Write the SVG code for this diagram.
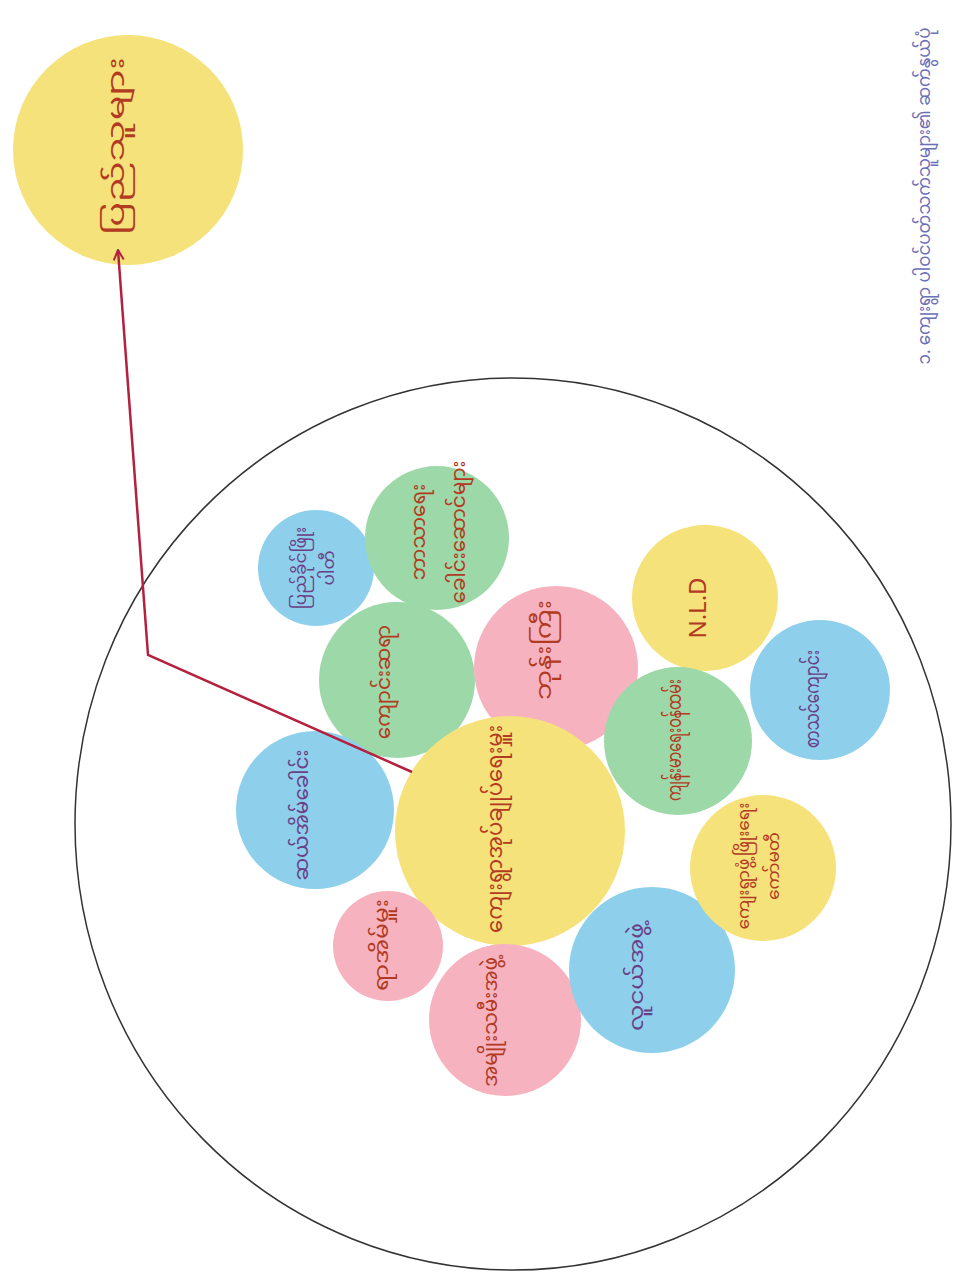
<svg xmlns="http://www.w3.org/2000/svg" width="956" height="1279" viewBox="0 0 956 1279">
<style>
.y{fill:#f6e27a}
.g{fill:#9dd8a8}
.p{fill:#f6b3bf}
.b{fill:#8ed0ec}
.t{font-family:"Noto Sans Myanmar","Noto Sans","DejaVu Sans",sans-serif;font-size:20px;fill:#b23a22;text-anchor:middle;dominant-baseline:central}
.tb{fill:#6a3f86}
.cap{font-family:"Noto Sans Myanmar","Noto Sans","DejaVu Sans",sans-serif;font-size:18px;fill:#6b6fb8;text-anchor:middle;dominant-baseline:central}
.link{fill:none;stroke:#b3213f;stroke-width:2.5}
</style>
<defs>
<marker id="arr" viewBox="0 0 12 12" refX="11" refY="6" markerWidth="12" markerHeight="12" markerUnits="userSpaceOnUse" orient="auto">
<path d="M1,1 L11,6 L1,11" fill="none" stroke="#b3213f" stroke-width="2"/>
</marker>
</defs>
<rect width="956" height="1279" fill="#ffffff"/>

<g id="boundary">
<ellipse cx="513" cy="824" rx="438" ry="446" fill="none" stroke="#333" stroke-width="1.5"/>
</g>

<g id="caption">
<text class="cap" transform="translate(925,196) rotate(-90)" textLength="337" lengthAdjust="spacingAndGlyphs">၁. ကျေးရွာ ပါဝင်ပတ်သက်သူများ၏ ဆက်နွယ်ပုံ</text>
</g>

<g id="n-people">
<circle class="y" cx="128" cy="150" r="115"/>
<text class="t" transform="translate(118,146) rotate(-90)" style="font-size:24px" textLength="178" lengthAdjust="spacingAndGlyphs">ပြည်သူများ</text>
</g>

<g id="n-usdp">
<circle class="b" cx="316" cy="568" r="58"/>
<text class="t tb" transform="translate(316,568) rotate(-90)"><tspan x="0" dy="-14" style="font-size:17px">ပြည်ခိုင်ဖြိုး</tspan><tspan x="0" dy="28" style="font-size:17px">ပါတီ</tspan></text>
</g>

<g id="n-religious">
<circle class="g" cx="437" cy="538" r="72"/>
<text class="t" transform="translate(440,532) rotate(-90)"><tspan x="0" dy="-20">ဘာသာရေး</tspan><tspan x="0" dy="40">ခေါင်းဆောင်များ</tspan></text>
</g>

<g id="n-teacher">
<circle class="g" cx="397" cy="680" r="78"/>
<text class="t" transform="translate(385,682) rotate(-90)">ကျောင်းဆရာ</text>
</g>

<g id="n-monk">
<circle class="p" cx="556" cy="668" r="82"/>
<text class="t" transform="translate(546,650) rotate(-90)" style="font-size:22px" textLength="100" lengthAdjust="spacingAndGlyphs">ဘုန်းကြီး</text>
</g>

<g id="n-nld">
<circle class="y" cx="705" cy="598" r="73"/>
<text class="t" transform="translate(700,608) rotate(-90)" style="font-size:24px">N.L.D</text>
</g>

<g id="n-health">
<circle class="g" cx="678" cy="741" r="74"/>
<text class="t" transform="translate(676,740) rotate(-90)" textLength="122" lengthAdjust="spacingAndGlyphs">ကျန်းမာရေးဝန်ထမ်း</text>
</g>

<g id="n-school">
<circle class="b" cx="820" cy="690" r="70"/>
<text class="t tb" transform="translate(814,699) rotate(-90)" textLength="98" lengthAdjust="spacingAndGlyphs">စာသင်ကျောင်း</text>
</g>

<g id="n-admin">
<circle class="y" cx="510" cy="831" r="115"/>
<text class="t" transform="translate(497,829) rotate(-90)" style="font-size:22px" textLength="208" lengthAdjust="spacingAndGlyphs">ကျေးရွာအုပ်ချုပ်ရေးမှူး</text>
</g>

<g id="n-tenhouse">
<circle class="b" cx="315" cy="810" r="79"/>
<text class="t tb" transform="translate(303,815) rotate(-90)">ဆယ်အိမ်ခေါင်း</text>
</g>

<g id="n-hundredhouse">
<circle class="p" cx="388" cy="946" r="55"/>
<text class="t" transform="translate(383,945) rotate(-90)" style="font-size:19px" textLength="92" lengthAdjust="spacingAndGlyphs">ရာအိမ်မှူး</text>
</g>

<g id="n-women">
<circle class="p" cx="505" cy="1020" r="76"/>
<text class="t" transform="translate(492,1022) rotate(-90)">အမျိုးသမီးအဖွဲ့</text>
</g>

<g id="n-youth">
<circle class="b" cx="652" cy="970" r="83"/>
<text class="t tb" transform="translate(638,977) rotate(-90)" textLength="108" lengthAdjust="spacingAndGlyphs">လူငယ်အဖွဲ့</text>
</g>

<g id="n-committee">
<circle class="y" cx="763" cy="868" r="73"/>
<text class="t" transform="translate(760,866) rotate(-90)"><tspan x="0" dy="-15" style="font-size:17px">ကျေးရွာဖွံ့ဖြိုးရေး</tspan><tspan x="0" dy="30" style="font-size:17px">ကော်မတီ</tspan></text>
</g>

<g id="connectors">
<polyline class="link" points="412,772 148,655 118,250" marker-end="url(#arr)"/>
</g>
</svg>
